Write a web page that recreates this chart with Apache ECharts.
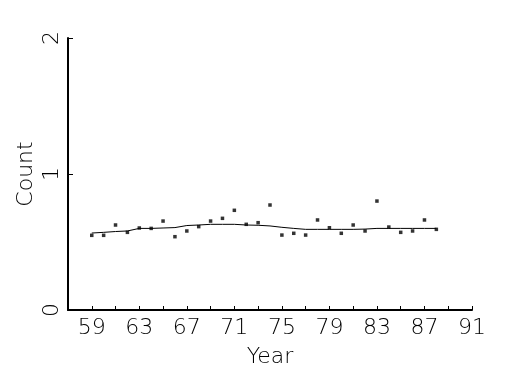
<!DOCTYPE html>
<html><head><meta charset="utf-8">
<script src="https://cdn.jsdelivr.net/npm/echarts@6/dist/echarts.min.js"></script>
<style>html,body{margin:0;padding:0;background:#fff}#c{width:525px;height:375px}</style>
</head><body><div id="c"></div>
<script>
var years = [59,60,61,62,63,64,65,66,67,68,69,70,71,72,73,74,75,76,77,78,79,80,81,82,83,84,85,86,87,88];
var counts = [0.549,0.549,0.625,0.571,0.603,0.600,0.654,0.539,0.581,0.613,0.654,0.674,0.733,0.630,0.642,0.772,0.551,0.564,0.551,0.662,0.605,0.564,0.625,0.581,0.801,0.610,0.571,0.581,0.662,0.593];
var trend = [0.566,0.571,0.577,0.581,0.600,0.600,0.603,0.606,0.621,0.625,0.630,0.630,0.630,0.625,0.623,0.618,0.608,0.600,0.593,0.593,0.593,0.593,0.593,0.595,0.600,0.600,0.600,0.600,0.600,0.600];
var xLabelYears = [59,63,67,71,75,79,83,87,91];

var font = 'DejaVu Sans';
var chart = echarts.init(document.getElementById('c'));
chart.setOption({
  animation: false,
  backgroundColor: '#fff',
  grid: {left: 68, right: 53, top: 38, bottom: 65, containLabel: false, outerBoundsMode: 'none'},
  xAxis: {
    type: 'value', min: 57, max: 91, interval: 2,
    name: 'Year', nameLocation: 'middle', nameGap: 36, nameMoveOverlap: false,
    nameTextStyle: {fontFamily: font, fontSize: 22, fontWeight: 'lighter', color: '#000'},
    axisLine: {show: true, onZero: false, lineStyle: {color: '#000', width: 2}},
    axisTick: {show: true, inside: true, length: 4, lineStyle: {color: '#000', width: 1}},
    axisLabel: {
      margin: 7, fontFamily: font, fontSize: 22, fontWeight: 'lighter', color: '#000',
      formatter: function (v) { return xLabelYears.indexOf(v) >= 0 ? String(v) : ''; }
    },
    splitLine: {show: false}
  },
  yAxis: {
    type: 'value', min: 0, max: 2, interval: 1,
    name: 'Count', nameLocation: 'middle', nameGap: 31, nameMoveOverlap: false,
    nameTextStyle: {fontFamily: font, fontSize: 22, fontWeight: 'lighter', color: '#000'},
    axisLine: {show: true, lineStyle: {color: '#000', width: 2}},
    axisTick: {show: true, inside: true, length: 5, lineStyle: {color: '#000', width: 1}},
    axisLabel: {rotate: 90, margin: 5, fontFamily: font, fontSize: 22, fontWeight: 'lighter', color: '#000'},
    splitLine: {show: false}
  },
  series: [
    {
      type: 'scatter', symbol: 'rect', symbolSize: 3.5,
      itemStyle: {color: '#000'},
      data: years.map(function (y, i) { return [y, counts[i]]; })
    },
    {
      type: 'line', showSymbol: false, symbol: 'none',
      lineStyle: {color: '#000', width: 1},
      data: years.map(function (y, i) { return [y, trend[i]]; })
    }
  ]
});
</script>
</body></html>
